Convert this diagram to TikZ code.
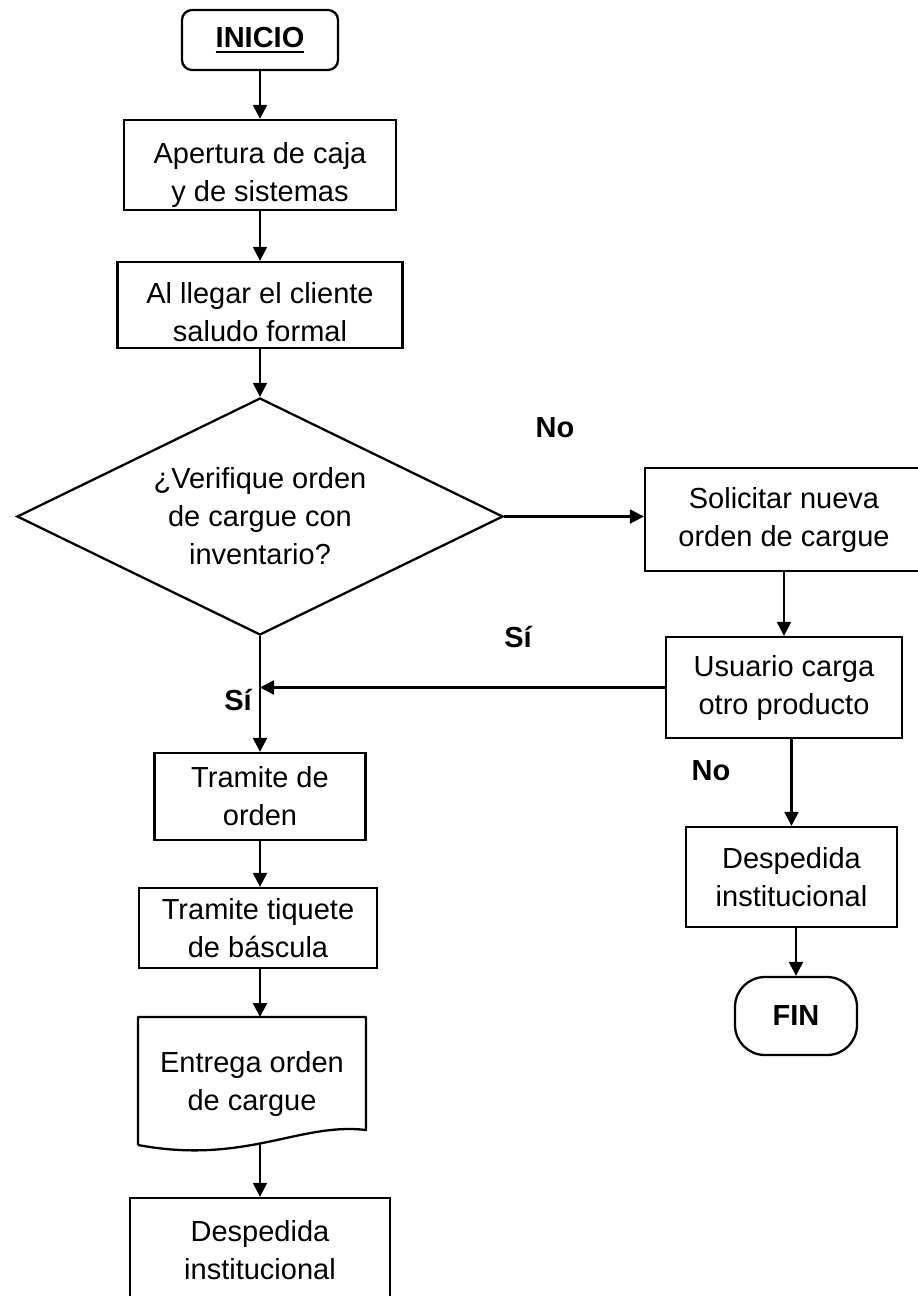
\documentclass[tikz,border=0pt]{standalone}
\usepackage{fontspec}
\setmainfont{Liberation Sans}
\usetikzlibrary{arrows.meta,shapes.geometric,calc}
% bold text with a heavy underline
\newcommand\ulbold[1]{\setbox0\hbox{\bfseries #1}\rlap{\raisebox{-6pt}{\rule{\wd0}{2.6pt}}}\box0}
% two centred lines, set a little low in their box
\newcommand\lowpair[2]{\raisebox{-10pt}[\height][\depth]{\begin{tabular}{@{}c@{}}#1\\#2\end{tabular}}}
\begin{document}
\begin{tikzpicture}[x=1pt,y=-1pt,
  every node/.style={font=\fontsize{29}{38}\selectfont, align=center, inner sep=0pt},
  box/.style={draw, line width=2.3pt, rectangle},
  term/.style={draw, line width=2.3pt, rectangle, rounded corners=#1},
  decision/.style={draw, line width=2.3pt, diamond, shape aspect=2.05},
  lbl/.style={font=\fontsize{29}{38}\selectfont\bfseries},
  ln/.style={line width=2.3pt},
  arr/.style={line width=2.3pt, -{Triangle[length=14pt,width=14pt]}}]
\useasboundingbox (0,0) rectangle (918,1296);
\clip (0,0) rectangle (918,1296);

% main column
\node[term=10pt, minimum width=156pt, minimum height=60pt] (ini) at (260,40) {\ulbold{INICIO}};
\node[box, minimum width=272pt, minimum height=90pt] (ap) at (260,165) {\lowpair{Apertura de caja}{y de sistemas}};
\node[box, minimum width=285pt, minimum height=86pt] (al) at (260,305) {\lowpair{Al llegar el cliente}{saludo formal}};
\node[decision, minimum width=486pt, minimum height=237pt] (dec) at (260,516.5) {¿Verifique orden\\de cargue con\\inventario?};
\node[box, minimum width=211pt, minimum height=87pt] (tr1) at (260,796.5) {Tramite de\\orden};
\node[box, minimum width=238pt, minimum height=80pt] (tr2) at (258,928) {Tramite tiquete\\de báscula};

% document shape
\node (doc) at (252,1084) {Entrega orden\\de cargue};
\draw[ln, line join=round] (138,1145) -- (138,1017) -- (366,1017) -- (366,1130)
  .. controls (300,1122) and (245,1165) .. (138,1145);
\coordinate (doctop) at (260,1017);
\coordinate (docbot) at (260,1144);

\node[box, minimum width=260pt, minimum height=104pt] (fin1) at (260,1250) {Despedida\\institucional};

% right column
\node[box, minimum width=278pt, minimum height=103pt] (sol) at (784,519.5) {Solicitar nueva\\orden de cargue};
\node[box, minimum width=236pt, minimum height=101pt] (usu) at (784,687.5) {Usuario carga\\otro producto};
\node[box, minimum width=211pt, minimum height=100pt] (desp) at (791.5,877) {Despedida\\institucional};
\node[term=30pt, minimum width=122pt, minimum height=78pt] (fin) at (796,1016) {\bfseries FIN};

% labels
\node[lbl] (no1) at (555,428) {No};
\node[lbl] (si1) at (518,637) {Sí};
\node[lbl] (si2) at (238,700) {Sí};
\node[lbl] (no2) at (711,771) {No};

% connectors
\draw[arr] (ini) -- (ap);
\draw[arr] (ap) -- (al);
\draw[arr] (al.south) -- (dec.north);
\draw[arr] (dec.east) -- (dec.east -| sol.west);
\draw[arr] (sol) -- (usu);
\coordinate (join) at (dec.south |- usu.west);
\draw[arr] (usu.west) -- (join);
\draw[arr] (dec.south) -- (tr1.north);
\draw[arr] (tr1.south -| doctop) -- (tr2.north -| doctop);
\draw[arr] (tr2.south -| doctop) -- (doctop);
\draw[arr] (docbot) -- (fin1.north);
\draw[arr] (usu.south -| desp.north) -- (desp.north);
\draw[arr] (desp.south -| fin.north) -- (fin.north);
\end{tikzpicture}
\end{document}
